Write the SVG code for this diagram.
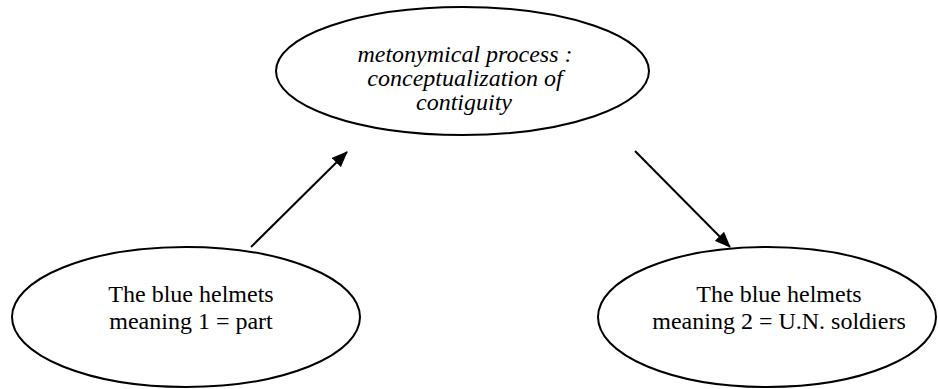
<svg xmlns="http://www.w3.org/2000/svg" width="938" height="389" viewBox="0 0 938 389">
<style>
.shape{fill:#fff;stroke:#000;stroke-width:2}
.t{font-family:"Liberation Serif","Times New Roman",serif;font-size:24px;fill:#000;text-anchor:middle}
.i{font-style:italic}
.edge{stroke:#000;stroke-width:2;fill:none}
</style>
<defs>
<marker id="ah" markerWidth="16" markerHeight="13" refX="15" refY="6.5" orient="auto" markerUnits="userSpaceOnUse" viewBox="0 0 16 13">
<path d="M0,0 L16,6.5 L0,13 z" fill="#000"/>
</marker>
</defs>
<rect width="938" height="389" fill="#fff"/>
<g id="n-process">
<ellipse class="shape" cx="462.5" cy="71" rx="186.5" ry="64"/>
<text class="t i" x="465" y="62">metonymical process :</text>
<text class="t i" x="465" y="86">conceptualization of</text>
<text class="t i" x="464" y="110">contiguity</text>
</g>
<g id="n-meaning1">
<ellipse class="shape" cx="186" cy="317" rx="174" ry="70"/>
<text class="t" x="191" y="302">The blue helmets</text>
<text class="t" x="191" y="329">meaning 1 = part</text>
</g>
<g id="n-meaning2">
<ellipse class="shape" cx="767" cy="317" rx="169" ry="70"/>
<text class="t" x="779" y="302">The blue helmets</text>
<text class="t" x="779" y="329">meaning 2 = U.N. soldiers</text>
</g>
<g id="connectors">
<line class="edge" x1="251" y1="247" x2="347" y2="152" marker-end="url(#ah)"/>
<line class="edge" x1="635" y1="151" x2="730" y2="247" marker-end="url(#ah)"/>
</g>
</svg>
